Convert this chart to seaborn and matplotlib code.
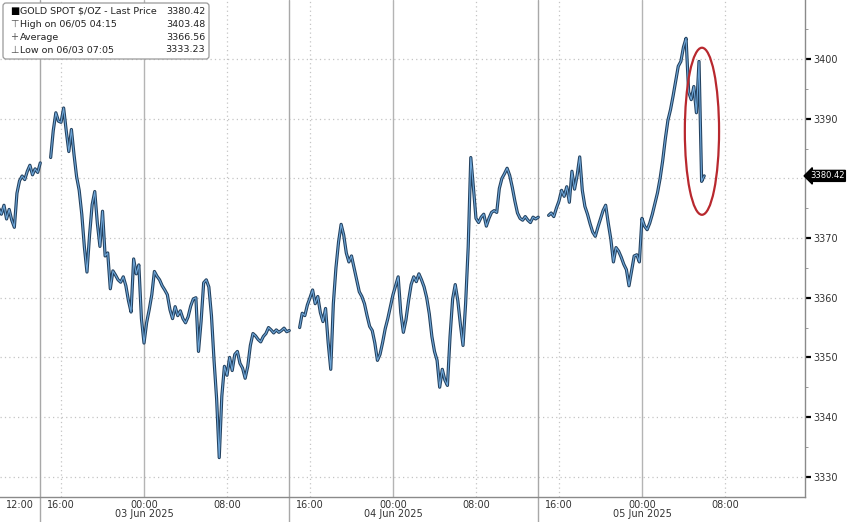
import numpy as np
import pandas as pd
import matplotlib
matplotlib.use("Agg")
import matplotlib.pyplot as plt
import matplotlib.dates as mdates
import matplotlib.transforms as mtrans
from matplotlib.patches import Ellipse, FancyBboxPatch
import seaborn as sns

# -- Data (15 min bars) -----------------------------------------------
seg_a_start = "2025-06-02 10:00"
seg_a_values = [3375.0, 3374.0, 3375.5, 3373.2, 3374.8, 3373.0, 3371.8, 3377.5,
                3379.6, 3380.4, 3379.8, 3381.2, 3382.2, 3380.6, 3381.6, 3381.0,
                3382.6]

seg_b_start = "2025-06-02 15:00"
seg_b_values = [3383.5, 3388.0, 3391.0, 3389.6, 3389.4, 3391.8, 3388.0, 3384.5,
                3388.2, 3384.0, 3380.3, 3378.0, 3374.0, 3368.5, 3364.3, 3370.5,
                3375.6, 3377.8, 3372.5, 3368.6, 3374.5, 3367.0, 3367.5, 3361.5,
                3364.5, 3363.8, 3363.0, 3362.6, 3363.5, 3362.0, 3359.5, 3357.6,
                3366.5, 3364.0, 3365.5, 3356.5, 3352.4, 3355.8, 3358.0, 3360.5,
                3364.4, 3363.6, 3363.0, 3362.0, 3361.3, 3360.5, 3358.0, 3356.5,
                3358.5, 3357.0, 3357.8, 3356.5, 3355.8, 3356.8, 3358.6, 3359.8,
                3360.0, 3351.0, 3356.0, 3362.5, 3363.0, 3361.8, 3357.0, 3349.5,
                3343.0, 3333.2, 3343.5, 3348.5, 3347.0, 3350.0, 3347.8, 3350.5,
                3351.0, 3349.0, 3348.2, 3346.5, 3348.5, 3352.0, 3354.0, 3353.6,
                3353.0, 3352.6, 3353.5, 3354.0, 3355.0, 3354.6, 3354.1, 3354.6,
                3354.2, 3354.5, 3354.9, 3354.3, 3354.5]

seg_c_start = "2025-06-03 15:00"
seg_c_values = [3355.0, 3357.4, 3357.0, 3358.8, 3360.0, 3361.3, 3359.0, 3360.2,
                3357.5, 3356.0, 3358.2, 3352.5, 3348.0, 3359.0, 3365.0, 3369.3,
                3372.3, 3370.5, 3367.5, 3366.0, 3367.0, 3365.0, 3363.0, 3361.0,
                3360.2, 3359.0, 3357.0, 3355.2, 3354.5, 3352.4, 3349.5, 3350.5,
                3352.5, 3354.8, 3356.5, 3358.5, 3360.5, 3362.0, 3363.5, 3357.5,
                3354.2, 3356.3, 3359.5, 3362.2, 3363.5, 3362.7, 3364.0, 3363.0,
                3361.8, 3360.0, 3357.3, 3353.5, 3351.0, 3349.5, 3345.0, 3348.0,
                3346.2, 3345.3, 3353.5, 3359.8, 3362.2, 3359.5, 3355.5, 3352.0,
                3359.0, 3368.5, 3383.5, 3378.5, 3373.3, 3372.6, 3373.5, 3374.0,
                3372.0, 3373.3, 3374.3, 3374.6, 3374.3, 3378.3, 3380.0, 3380.8,
                3381.7, 3380.5, 3378.5, 3376.2, 3374.2, 3373.3, 3373.0, 3373.6,
                3373.0, 3372.6, 3373.5, 3373.2, 3373.5]

seg_d_start = "2025-06-04 15:00"
seg_d_values = [3373.8, 3374.2, 3373.6, 3375.0, 3376.2, 3378.0, 3377.0, 3378.6,
                3376.0, 3381.2, 3378.2, 3380.5, 3383.6, 3378.0, 3375.3, 3374.0,
                3372.4, 3371.0, 3370.3, 3371.8, 3373.2, 3374.6, 3375.5, 3372.5,
                3369.8, 3366.0, 3368.4, 3367.8, 3366.8, 3365.6, 3364.7, 3362.0,
                3364.5, 3367.0, 3367.2, 3366.0, 3373.3, 3372.0, 3371.4, 3372.5,
                3374.0, 3375.8, 3377.6, 3380.0, 3383.0, 3386.6, 3389.7, 3391.5,
                3393.8, 3396.3, 3398.8, 3399.6, 3402.0, 3403.48, 3394.5, 3393.2,
                3395.4, 3391.0, 3399.6, 3379.5, 3380.42]

segments = [(seg_a_start, seg_a_values), (seg_b_start, seg_b_values),
            (seg_c_start, seg_c_values), (seg_d_start, seg_d_values)]

session_breaks = ["2025-06-02 14:00", "2025-06-03 14:00", "2025-06-04 14:00"]
midnights = ["2025-06-03 00:00", "2025-06-04 00:00", "2025-06-05 00:00"]
dotted_times = ["2025-06-02 16:00", "2025-06-03 08:00", "2025-06-03 16:00",
                "2025-06-04 08:00", "2025-06-04 16:00", "2025-06-05 08:00"]
label_times = ["2025-06-02 12:00", "2025-06-02 16:00",
               "2025-06-03 00:00", "2025-06-03 08:00", "2025-06-03 16:00",
               "2025-06-04 00:00", "2025-06-04 08:00", "2025-06-04 16:00",
               "2025-06-05 00:00", "2025-06-05 08:00"]
date_labels = ["03 Jun 2025", "04 Jun 2025", "05 Jun 2025"]
y_ticks = [3330, 3340, 3350, 3360, 3370, 3380, 3390, 3400]

last_price = 3380.42
legend_rows = [("GOLD SPOT $/OZ - Last Price", "3380.42"),
               ("High on 06/05 04:15", "3403.48"),
               ("Average", "3366.56"),
               ("Low on 06/03 07:05", "3333.23")]

frames = []
for i, (start, vals) in enumerate(segments):
    frames.append(pd.DataFrame({
        "time": pd.date_range(start, periods=len(vals), freq="15min"),
        "price": vals,
        "segment": i,
    }))
df = pd.concat(frames, ignore_index=True)

# -- Plot --------------------------------------------------------------
sns.set_theme(style="white")
plt.rcParams["font.family"] = ["DejaVu Sans"]

fig = plt.figure(figsize=(8.48, 5.22), dpi=100)
ax = fig.add_axes([0.0, 25 / 522, 805 / 848, 497 / 522])

for t in dotted_times:
    ax.axvline(pd.Timestamp(t), color="#c4c4c4", lw=0.9, ls=(0, (1, 2.5)), zorder=1)
for v in y_ticks:
    ax.axhline(v, color="#c4c4c4", lw=0.9, ls=(0, (1, 2.5)), zorder=1)
for t in midnights:
    ax.axvline(pd.Timestamp(t), color="#b4b4b4", lw=1.0, zorder=1)
blend = mtrans.blended_transform_factory(ax.transData, ax.transAxes)
for t in session_breaks:
    tn = mdates.date2num(pd.Timestamp(t))
    ax.plot([tn, tn], [1, -0.06], color="#a8a8a8", lw=1.0, transform=blend,
            clip_on=False, zorder=1)

sns.lineplot(data=df, x="time", y="price", units="segment", estimator=None,
             color="#23415f", lw=2.3, ax=ax, zorder=3)
sns.lineplot(data=df, x="time", y="price", units="segment", estimator=None,
             color="#6ea6d8", lw=0.8, ax=ax, zorder=4)

# red ellipse around the last drop
ell_center = mdates.date2num(pd.Timestamp("2025-06-05 05:47"))
ax.add_patch(Ellipse((ell_center, 3387.9), width=3.3 / 24, height=28.0,
                     fill=False, edgecolor="#b8282e", lw=1.6, zorder=5))

ax.set_xlim(pd.Timestamp("2025-06-02 10:07"), pd.Timestamp("2025-06-05 15:43"))
ax.set_ylim(3326.6, 3409.9)
ax.set_xlabel("")
ax.set_ylabel("")

# x axis
ax.set_xticks([pd.Timestamp(t) for t in label_times])
ax.xaxis.set_major_formatter(mdates.DateFormatter("%H:%M"))
ax.xaxis.set_minor_locator(mdates.HourLocator(byhour=[4, 12, 20]))
ax.tick_params(axis="x", which="major", length=3, width=0.8, color="#888888",
               direction="inout", labelsize=7, labelcolor="#333333", pad=1)
ax.tick_params(axis="x", which="minor", length=3, width=0.8, color="#888888",
               direction="inout")
for t, lab in zip(midnights, date_labels):
    ax.text(pd.Timestamp(t), -17 / 497, lab, transform=blend, ha="center",
            va="center", fontsize=7, color="#333333")

# y axis on the right (3380 label is covered by the last-price tag)
ax.yaxis.tick_right()
ax.set_yticks(y_ticks)
ax.set_yticklabels(["" if v == 3380 else str(v) for v in y_ticks])
ax.set_yticks([v + 5 for v in y_ticks[:-1]] + [3405], minor=True)
ax.tick_params(axis="y", which="major", length=4, width=1.6, color="black",
               direction="out", labelsize=7, labelcolor="#333333", pad=2)
ax.tick_params(axis="y", which="minor", length=2, width=0.6, color="#888888",
               direction="out")

for side in ["left", "top"]:
    ax.spines[side].set_visible(False)
for side in ["bottom", "right"]:
    ax.spines[side].set_color("#8a8a8a")
    ax.spines[side].set_linewidth(1.0)

ax.annotate(f"{last_price:.2f}", xy=(1.0, last_price),
            xycoords=("axes fraction", "data"), xytext=(3.5, 0),
            textcoords="offset points", ha="left", va="center", fontsize=6,
            color="white",
            bbox=dict(boxstyle="larrow,pad=0.12", fc="black", ec="black"))

# legend box top-left
box = FancyBboxPatch((3, 463), 206, 56, boxstyle="round,pad=0,rounding_size=3",
                     transform=None, fc="white", ec="#9a9a9a", lw=0.9, zorder=6)
fig.patches.append(box)
row_y = [511, 498, 485, 472]
symbols = ["\u25A0", "\u22A4", "+", "\u22A5"]
for (lab, val), y, sym in zip(legend_rows, row_y, symbols):
    fig.text(10 / 848, y / 522, sym, fontsize=7,
             color="black" if sym == "\u25A0" else "#555555",
             va="center", ha="left", zorder=7)
    fig.text(20 / 848, y / 522, lab, fontsize=6.8, color="#222222",
             va="center", ha="left", zorder=7)
    fig.text(205 / 848, y / 522, val, fontsize=6.8, color="#222222",
             va="center", ha="right", zorder=7)

fig.savefig("out.png", dpi=100)
